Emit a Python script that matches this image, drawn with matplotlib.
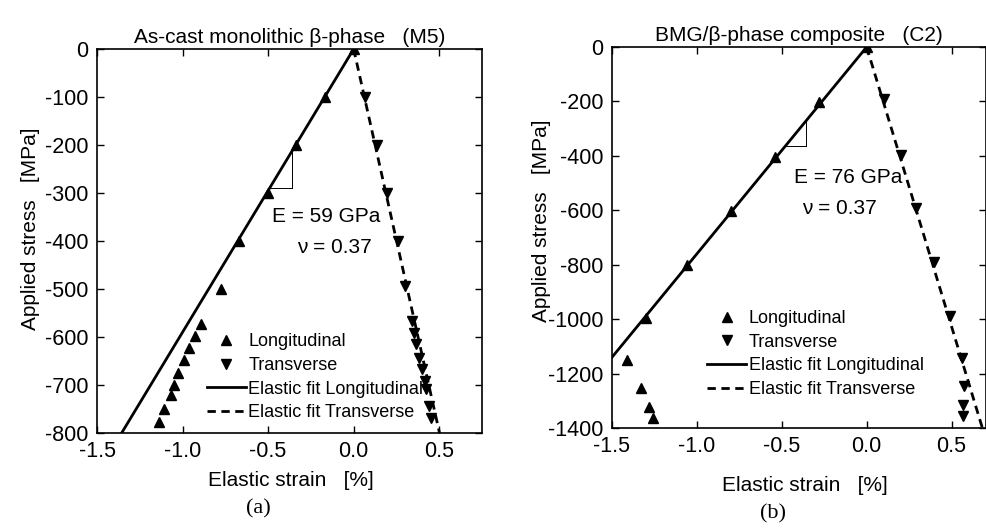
import matplotlib
matplotlib.use("Agg")
from matplotlib import pyplot as plt
import numpy as np

plt.rcParams['font.family'] = ['Liberation Sans', 'DejaVu Sans']
plt.rcParams['axes.unicode_minus'] = False

# (a) As-cast monolithic beta-phase (M5)
a_long_strain = [0.0, -0.17, -0.335, -0.50, -0.67, -0.776, -0.894, -0.93, -0.965, -0.994, -1.024, -1.05, -1.07, -1.11, -1.135]
a_long_stress = [0, -100, -200, -300, -400, -500, -573, -598, -623, -648, -675, -700, -721, -750, -777]
a_tran_strain = [0.0, 0.065, 0.135, 0.194, 0.259, 0.30, 0.341, 0.353, 0.365, 0.38, 0.40, 0.418, 0.425, 0.44, 0.453]
a_tran_stress = [0, -100, -200, -300, -400, -494, -567, -592, -615, -643, -667, -692, -708, -744, -769]
a_E = 59.0   # GPa
a_nu = 0.37

# (b) BMG/beta-phase composite (C2)
b_long_strain = [0.0, -0.28, -0.54, -0.80, -1.06, -1.30, -1.41, -1.33, -1.285, -1.26]
b_long_stress = [0, -202, -404, -603, -800, -996, -1151, -1254, -1324, -1364]
b_tran_strain = [0.0, 0.105, 0.20, 0.29, 0.395, 0.49, 0.56, 0.575, 0.565, 0.565]
b_tran_stress = [0, -191, -397, -592, -790, -989, -1143, -1246, -1316, -1357]
b_E = 76.0
b_nu = 0.37

panels = [
    dict(title="As-cast monolithic β-phase   (M5)", tag="(a)",
         ls=a_long_strain, lsig=a_long_stress, ts=a_tran_strain, tsig=a_tran_stress,
         E=a_E, nu=a_nu, ylim=(-800, 0), yticks=np.arange(-800, 1, 100), xlim=(-1.5, 0.75),
         rect=[97/986, 97/530, 385/986, 384/530],
         tri_x=-0.36, tri_y=-290, txt=[(-0.16, -348), (-0.11, -414)],
         ylab=(-0.172, 0.531), xlab=(0.504, -0.1),
         leg=(0.285, 0.26), tagpos=(258/986, 1 - 509/530)),
    dict(title="BMG/β-phase composite   (C2)", tag="(b)",
         ls=b_long_strain, lsig=b_long_stress, ts=b_tran_strain, tsig=b_tran_stress,
         E=b_E, nu=b_nu, ylim=(-1400, 0), yticks=np.arange(-1400, 1, 200), xlim=(-1.5, 0.7),
         rect=[612/986, 102/530, 373.5/986, 381/530],
         tri_x=-0.36, tri_y=-364, txt=[(-0.11, -478), (-0.16, -592)],
         ylab=(-0.188, 0.543), xlab=(0.516, -0.125),
         leg=(0.255, 0.31), tagpos=(773/986, 1 - 514/530)),
]

fig = plt.figure(figsize=(9.86, 5.30), dpi=100)

for p in panels:
    ax = fig.add_axes(p['rect'])
    ax.set_xlim(*p['xlim'])
    ax.set_ylim(*p['ylim'])

    # elastic fits: strain [%] = stress / E
    sig = np.array([0, p['ylim'][0] * 1.1])
    fit_long = sig / (p['E'] * 1000) * 100
    fit_tran = -p['nu'] * fit_long

    ax.plot(p['ls'], p['lsig'], '^', color='k', ms=7, ls='none', label='Longitudinal')
    ax.plot(p['ts'], p['tsig'], 'v', color='k', ms=7, ls='none', label='Transverse')
    ax.plot(fit_long, sig, '-', color='k', lw=2.0, label='Elastic fit Longitudinal')
    ax.plot(fit_tran, sig, color='k', lw=2.0, ls=(0, (3, 2)), label='Elastic fit Transverse')

    # slope triangle
    tx, ty = p['tri_x'], p['tri_y']
    ax.plot([tx, tx], [tx * p['E'] * 10, ty], color='k', lw=0.7)
    ax.plot([ty / (p['E'] * 10), tx], [ty, ty], color='k', lw=0.7)

    ax.text(p['txt'][0][0], p['txt'][0][1], "E = %d GPa" % p['E'], ha='center', va='center', fontsize=15)
    ax.text(p['txt'][1][0], p['txt'][1][1], "ν = %.2f" % p['nu'], ha='center', va='center', fontsize=15)

    ax.set_xticks([-1.5, -1.0, -0.5, 0.0, 0.5])
    ax.set_xticklabels(['%.1f' % v for v in [-1.5, -1.0, -0.5, 0.0, 0.5]])
    ax.set_yticks(p['yticks'])
    ax.tick_params(direction='in', top=True, right=True, length=5, width=1, labelsize=15.5, pad=6)
    for s in ax.spines.values():
        s.set_linewidth(1.2)

    ax.set_title(p['title'], fontsize=15, pad=4)
    ax.set_xlabel("Elastic strain   [%]", fontsize=15)
    ax.set_ylabel("Applied stress   [MPa]", fontsize=15)
    ax.xaxis.set_label_coords(*p['xlab'])
    ax.yaxis.set_label_coords(*p['ylab'])
    ax.yaxis.label.set_va('center')

    ax.legend(loc='upper left', bbox_to_anchor=p['leg'], frameon=False, fontsize=13,
              borderpad=0, borderaxespad=0, handlelength=2.15, handletextpad=0.15,
              labelspacing=0.37)

    fig.text(p['tagpos'][0], p['tagpos'][1], p['tag'], ha='center', va='center',
             fontsize=16, family='Liberation Serif')

fig.savefig("out.png", dpi=100)
